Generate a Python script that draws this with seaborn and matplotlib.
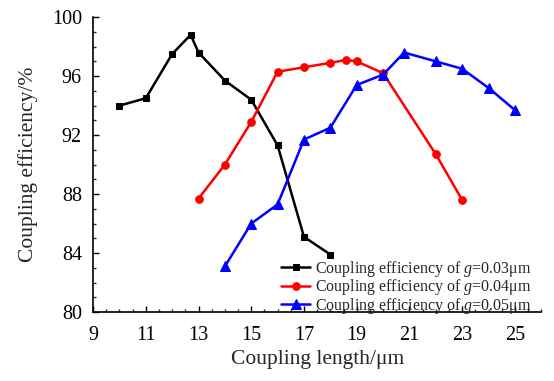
import numpy as np
import pandas as pd
import matplotlib
matplotlib.use("Agg")
import matplotlib.pyplot as plt
from matplotlib.ticker import MultipleLocator
import seaborn as sns

# datos
len_003 = [10, 11, 12, 12.7, 13, 14, 15, 16, 17, 18]
eff_003 = [94.0, 94.5, 97.5, 98.8, 97.6, 95.7, 94.4, 91.3, 85.1, 83.9]

len_004 = [13, 14, 15, 16, 17, 18, 18.6, 19, 20, 22, 23]
eff_004 = [87.7, 90.0, 92.9, 96.3, 96.6, 96.9, 97.1, 97.0, 96.2, 90.7, 87.6]

len_005 = [14, 15, 16, 17, 18, 19, 20, 20.8, 22, 23, 24, 25]
eff_005 = [83.1, 86.0, 87.3, 91.7, 92.5, 95.4, 96.1, 97.6, 97.0, 96.5, 95.2, 93.7]

labels = ["Coupling efficiency of $g$=0.03\u03bcm",
          "Coupling efficiency of $g$=0.04\u03bcm",
          "Coupling efficiency of $g$=0.05\u03bcm"]

sns.set_style("ticks")
plt.rcParams['font.family'] = ['Liberation Serif', 'DejaVu Serif']
plt.rcParams['mathtext.fontset'] = 'custom'
plt.rcParams['mathtext.it'] = 'Liberation Serif:italic'
plt.rcParams['mathtext.rm'] = 'Liberation Serif'

fig = plt.figure(figsize=(5.54, 3.81), dpi=100)
ax = fig.add_axes([0.168, 0.181, 0.809, 0.774])

series = [(len_003, eff_003, 'black', 's', 5),
          (len_004, eff_004, 'red', 'o', 5.5),
          (len_005, eff_005, 'blue', '^', 6.5)]

for (x, y, c, m, ms), lab in zip(series, labels):
    sns.lineplot(x=x, y=y, ax=ax, color=c, marker=m, markersize=ms,
                 markeredgecolor=c, linewidth=1.8, label=lab)

ax.set_xlim(9, 26)
ax.set_ylim(80, 100)
ax.set_xticks(np.arange(9, 26, 2))
ax.xaxis.set_minor_locator(MultipleLocator(0.5))
ax.set_yticks(np.arange(80, 101, 4))
ax.yaxis.set_minor_locator(MultipleLocator(1))

ax.tick_params(which='major', direction='in', length=4, width=1, labelsize=14.5, colors='black')
ax.tick_params(which='minor', direction='in', length=2.5, width=1)
ax.tick_params(axis='x', pad=10)
ax.tick_params(axis='y', pad=8)

sns.despine(ax=ax)
for s in ['left', 'bottom']:
    ax.spines[s].set_linewidth(1.2)
    ax.spines[s].set_color('black')

ax.set_xlabel("Coupling length/\u03bcm", fontsize=15.5, labelpad=4)
ax.set_ylabel("Coupling efficiency/%", fontsize=15.5, labelpad=10)

ax.legend(loc='lower right', bbox_to_anchor=(1.0, -0.045), frameon=False, fontsize=11.5,
          handlelength=1.8, handletextpad=0.3, labelspacing=-0.1, borderaxespad=0.2)

fig.savefig("out.png", dpi=100)
